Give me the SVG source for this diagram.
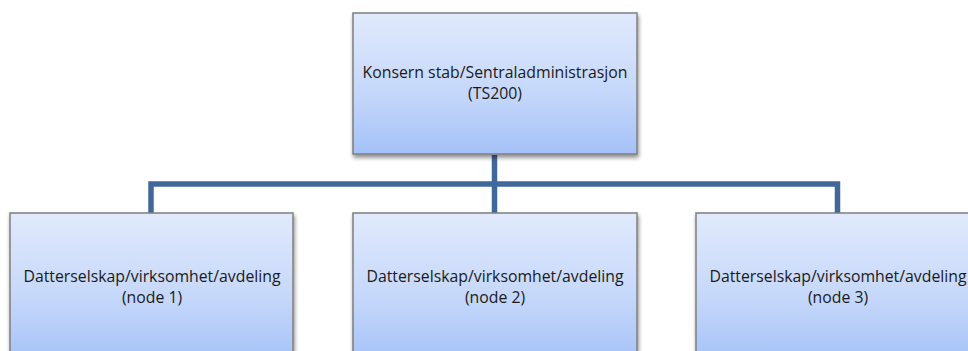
<svg xmlns="http://www.w3.org/2000/svg" width="968" height="351" viewBox="0 0 968 351">
<style>
.box{fill:url(#g);stroke:#7f7f7f;stroke-width:1.5;filter:url(#sh)}
.t{font-family:"Open Sans","Liberation Sans",Arial,sans-serif;font-size:15.8px;fill:#1a1a1a;text-anchor:middle}
.c{fill:none;stroke:#41689a;stroke-width:5.5;stroke-linejoin:miter}
</style>
<defs>
<linearGradient id="g" x1="0" y1="0" x2="0" y2="1">
<stop offset="0" stop-color="#e1eafc"/>
<stop offset="0.6" stop-color="#c3d6fa"/>
<stop offset="1" stop-color="#a4c1f7"/>
</linearGradient>
<filter id="sh" x="-5%" y="-5%" width="115%" height="120%">
<feGaussianBlur in="SourceAlpha" stdDeviation="2"/>
<feOffset dx="1" dy="3" result="b"/>
<feComponentTransfer><feFuncA type="linear" slope="0.45"/></feComponentTransfer>
<feMerge><feMergeNode/><feMergeNode in="SourceGraphic"/></feMerge>
</filter>
</defs>
<g id="connectors">
<path class="c" d="M494.5 155V184M151 213V184H837.5V213M494.5 184V213"/>
</g>
<g id="top">
<rect class="box" x="353" y="13" width="284" height="141"/>
<text class="t" x="495" y="78">Konsern stab/Sentraladministrasjon</text>
<text class="t" x="495" y="99">(TS200)</text>
</g>
<g id="node1">
<rect class="box" x="10" y="213" width="283" height="150"/>
<text class="t" x="152" y="282">Datterselskap/virksomhet/avdeling</text>
<text class="t" x="152" y="303">(node 1)</text>
</g>
<g id="node2">
<rect class="box" x="353" y="213" width="284" height="150"/>
<text class="t" x="495" y="282">Datterselskap/virksomhet/avdeling</text>
<text class="t" x="495" y="303">(node 2)</text>
</g>
<g id="node3">
<rect class="box" x="696" y="213" width="283" height="150"/>
<text class="t" x="838" y="282">Datterselskap/virksomhet/avdeling</text>
<text class="t" x="838" y="303">(node 3)</text>
</g>
</svg>
